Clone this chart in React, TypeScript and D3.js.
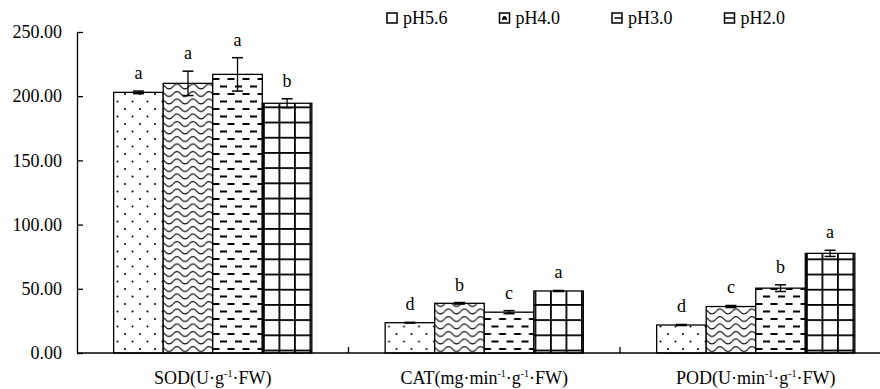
import React, { useEffect, useRef } from "react";
import * as d3 from "d3";

const categories = ["SOD", "CAT", "POD"];
const series = ["pH5.6", "pH4.0", "pH3.0", "pH2.0"];

const sodValues = [203, 210, 217, 194.5];
const sodErrors = [1, 9.5, 13, 3.5];
const sodLetters = ["a", "a", "a", "b"];

const catValues = [23.6, 38.7, 31.8, 48.3];
const catErrors = [0.3, 0.6, 1.2, 0.4];
const catLetters = ["d", "b", "c", "a"];

const podValues = [21.8, 36.2, 50.5, 77.6];
const podErrors = [0.4, 0.8, 2.6, 2.4];
const podLetters = ["d", "c", "b", "a"];

const yTicks = [0, 50, 100, 150, 200, 250];

// axis label pieces, a "-1" superscript goes between them
const catLabels = [
  ["SOD(U·g", "·FW)"],
  ["CAT(mg·min", "·g", "·FW)"],
  ["POD(U·min", "·g", "·FW)"],
];

const W = 880;
const H = 389;
const FONT = "'Liberation Serif', 'Times New Roman', serif";

const table = categories.map((c, i) => ({
  cat: c,
  values: [sodValues, catValues, podValues][i],
  errors: [sodErrors, catErrors, podErrors][i],
  letters: [sodLetters, catLetters, podLetters][i],
}));

const patternIds = ["p-dots", "p-wave", "p-dash", "p-grid"];

export default function App() {
  const yAxisRef = useRef<SVGGElement>(null);

  const y = d3.scaleLinear().domain([0, 250]).range([353, 32]);
  const x0 = d3.scaleBand().domain(categories).range([77, 891.5]).padding(0);
  const groupW = x0.bandwidth() * 0.73;
  const groupOff = (x0.bandwidth() - groupW) / 2;
  const x1 = d3.scaleBand().domain(series).range([groupOff, groupOff + groupW]);
  const legendX = d3.scalePoint().domain(series).range([387, 724.5]);

  useEffect(() => {
    const g = d3.select(yAxisRef.current);
    g.selectAll("*").remove();
    g.call(
      d3
        .axisLeft(y)
        .tickValues(yTicks)
        .tickSizeInner(-6)
        .tickSizeOuter(0)
        .tickPadding(15)
        .tickFormat(d3.format(".2f"))
    );
    g.select(".domain").attr("stroke", "#000").attr("stroke-width", 1.3);
    g.selectAll(".tick line").attr("stroke", "#000").attr("stroke-width", 1.3);
    g.selectAll(".tick text")
      .attr("fill", "#000")
      .style("font-family", FONT)
      .style("font-size", "18px");
  }, []);

  return (
    <svg
      width={W}
      height={H}
      style={{ position: "absolute", left: 0, top: 0, background: "#fff", fontFamily: FONT }}
    >
      <defs>
        <pattern id="p-dots" patternUnits="userSpaceOnUse" width={15} height={15}>
          <rect width={15} height={15} fill="#fff" />
          <circle cx={3} cy={4} r={1} fill="#000" />
          <circle cx={10.5} cy={11.5} r={1} fill="#000" />
        </pattern>
        <pattern id="p-wave" patternUnits="userSpaceOnUse" width={16} height={7.5}>
          <rect width={16} height={7.5} fill="#fff" />
          <path d="M0,4 Q4,-0.8 8,4 T16,4" fill="none" stroke="#000" strokeWidth={1.1} />
        </pattern>
        <pattern id="p-dash" patternUnits="userSpaceOnUse" width={15} height={15}>
          <rect width={15} height={15} fill="#fff" />
          <rect x={0.5} y={3} width={7} height={2} fill="#000" />
          <rect x={8} y={10.5} width={7} height={2} fill="#000" />
        </pattern>
        <pattern id="p-grid" patternUnits="userSpaceOnUse" width={15.5} height={15.2}>
          <rect width={15.5} height={15.2} fill="#fff" />
          <line x1={0.9} y1={0} x2={0.9} y2={15.2} stroke="#000" strokeWidth={1.8} />
          <line x1={0} y1={0.9} x2={15.5} y2={0.9} stroke="#000" strokeWidth={1.8} />
        </pattern>
      </defs>

      {table.map((row) => (
        <g key={row.cat} transform={`translate(${x0(row.cat)},0)`}>
          {series.map((s, i) => {
            const v = row.values[i];
            const e = row.errors[i];
            const bx = x1(s) as number;
            const bw = x1.bandwidth();
            const cx = bx + bw / 2;
            return (
              <g key={s}>
                <rect
                  x={bx}
                  y={y(v)}
                  width={bw}
                  height={y(0) - y(v)}
                  fill={`url(#${patternIds[i]})`}
                  stroke="#000"
                  strokeWidth={1.3}
                />
                <line x1={cx} x2={cx} y1={y(v + e)} y2={y(v - e)} stroke="#000" strokeWidth={1.3} />
                <line x1={cx - 5.5} x2={cx + 5.5} y1={y(v + e)} y2={y(v + e)} stroke="#000" strokeWidth={1.5} />
                <line x1={cx - 5.5} x2={cx + 5.5} y1={y(v - e)} y2={y(v - e)} stroke="#000" strokeWidth={1.5} />
                <text x={cx} y={y(v + e) - 12} textAnchor="middle" fontSize={18}>
                  {row.letters[i]}
                </text>
              </g>
            );
          })}
        </g>
      ))}

      <g ref={yAxisRef} transform="translate(77,0)" />

      <line x1={77} x2={W} y1={y(0)} y2={y(0)} stroke="#000" strokeWidth={1.3} />
      {categories.slice(1).map((c) => (
        <line
          key={c}
          x1={x0(c)}
          x2={x0(c)}
          y1={y(0)}
          y2={y(0) - 6}
          stroke="#000"
          strokeWidth={1.3}
        />
      ))}

      {categories.map((c, i) => (
        <text
          key={c}
          x={(x0(c) as number) + x0.bandwidth() / 2}
          y={384}
          textAnchor="middle"
          fontSize={18}
        >
          {catLabels[i].map((part, j) => (
            <React.Fragment key={j}>
              <tspan dy={j === 0 ? 0 : 7}>{part}</tspan>
              {j < catLabels[i].length - 1 && (
                <tspan fontSize={10} dy={-7}>
                  -1
                </tspan>
              )}
            </React.Fragment>
          ))}
        </text>
      ))}

      {series.map((s, i) => {
        const lx = legendX(s) as number;
        return (
          <g key={s} transform={`translate(${lx},13)`}>
            <rect width={10} height={10} fill="#fff" stroke="#000" strokeWidth={1.5} />
            {i === 1 && (
              <path d="M2.5,7.5 Q2.5,3 5,3 Q7.5,3 7.5,7.5 Q5,5.5 2.5,7.5 Z" fill="#000" />
            )}
            {i === 2 && <line x1={2.5} x2={10} y1={5} y2={5} stroke="#000" strokeWidth={1.5} />}
            {i === 3 && <line x1={0} x2={10} y1={5} y2={5} stroke="#000" strokeWidth={1.5} />}
            <text x={16} y={10.5} fontSize={18}>
              {s}
            </text>
          </g>
        );
      })}
    </svg>
  );
}
